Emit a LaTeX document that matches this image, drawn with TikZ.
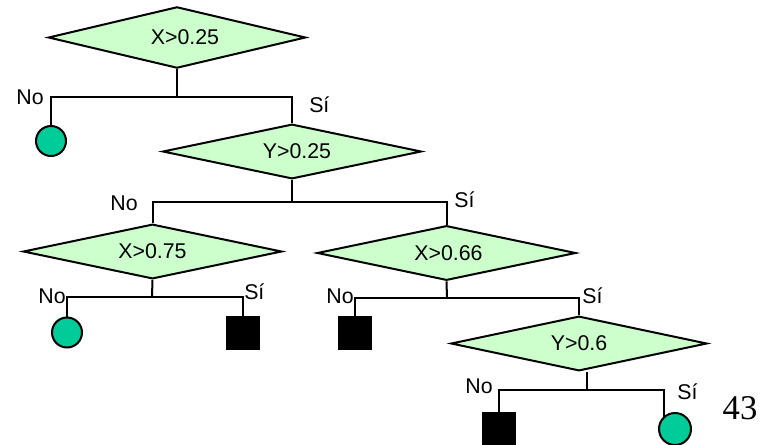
\documentclass[tikz,border=0pt]{standalone}
\usepackage{fontspec}
\setmainfont{Liberation Sans}
\newfontfamily\numfont{Liberation Serif}
\usetikzlibrary{shapes.geometric,backgrounds}
\definecolor{dfill}{HTML}{CCFFCC}
\definecolor{leafgreen}{HTML}{00CC99}
\begin{document}
\begin{tikzpicture}[x=0.75pt,y=-0.75pt,
  every node/.style={font=\fontsize{16}{19}\selectfont},
  test/.style={diamond,aspect=5,draw=black,fill=dfill,line width=1.5pt,inner sep=0pt,
    minimum width=194pt,minimum height=41pt},
  leafc/.style={circle,draw=black,fill=leafgreen,line width=1.5pt,inner sep=0pt},
  leafs/.style={rectangle,draw=black,fill=black,line width=1.5pt,inner sep=0pt,minimum size=24pt},
  lab/.style={inner sep=0pt},
  conn/.style={line width=1.5pt,draw=black}]
\useasboundingbox (0,0) rectangle (771,444);
% decision nodes
\node[test,minimum width=193pt,minimum height=46pt] (d1) at (177,37.5) {\hspace*{12pt}X>0.25};
\node[test] (d2) at (292,151.5) {\hspace*{7.5pt}Y>0.25};
\node[test] (d3) at (152.5,251.5) {X>0.75};
\node[test] (d4) at (446.5,253) {\hspace*{3pt}X>0.66};
\node[test,minimum width=192pt] (d5) at (579,343.5) {Y>0.6};
% leaves
\node[leafc,minimum size=22.5pt] (c1) at (51,141) {};
\node[leafc,minimum size=22.5pt] (c2) at (67,332.5) {};
\node[leafc,minimum size=24pt] (c3) at (675,429) {};
\node[leafs] (s1) at (242.5,333) {};
\node[leafs] (s2) at (355,333) {};
\node[leafs] (s3) at (499,429) {};
% junctions
\coordinate (j1) at (177,97);
\coordinate (j2) at (292,202);
\coordinate (j3) at (152,297);
\coordinate (j4) at (447,298);
\coordinate (j5) at (587,390);
\begin{scope}[on background layer]
\draw[conn] (d1.south) -- (j1);
\draw[conn] (c1.center) |- (j1) -| (d2.north);
\draw[conn] (d2.south) -- (j2);
\draw[conn] (d3.north) |- (j2) -| (d4.north);
\draw[conn] (d3.south) -- (j3);
\draw[conn] (c2.center) |- (j3) -| (s1.center);
\draw[conn] (d4.south) -- (j4);
\draw[conn] (s2.center) |- (j4) -| (d5.north);
\draw[conn] (d5.south -| j5) -- (j5);
\draw[conn] (s3.center) |- (j5) -| ([xshift=-8.25pt]c3.center);
\end{scope}
% labels
\node[lab,anchor=east] (l1) at (44,97) {No};
\node[lab,anchor=west] (l2) at (309,105) {Sí};
\node[lab,anchor=east] (l3) at (138,203) {No};
\node[lab,anchor=west] (l4) at (454,200) {Sí};
\node[lab,anchor=east] (l5) at (66,296) {No};
\node[lab,anchor=west] (l6) at (244,292) {Sí};
\node[lab,anchor=east] (l7) at (354,296) {No};
\node[lab,anchor=west] (l8) at (582,296) {Sí};
\node[lab,anchor=east] (l9) at (493,386) {No};
\node[lab,anchor=west] (l10) at (677,392) {Sí};
\node[lab,font=\numfont\fontsize{26}{30}\selectfont] (pg) at (740,408) {43};
\end{tikzpicture}
\end{document}
